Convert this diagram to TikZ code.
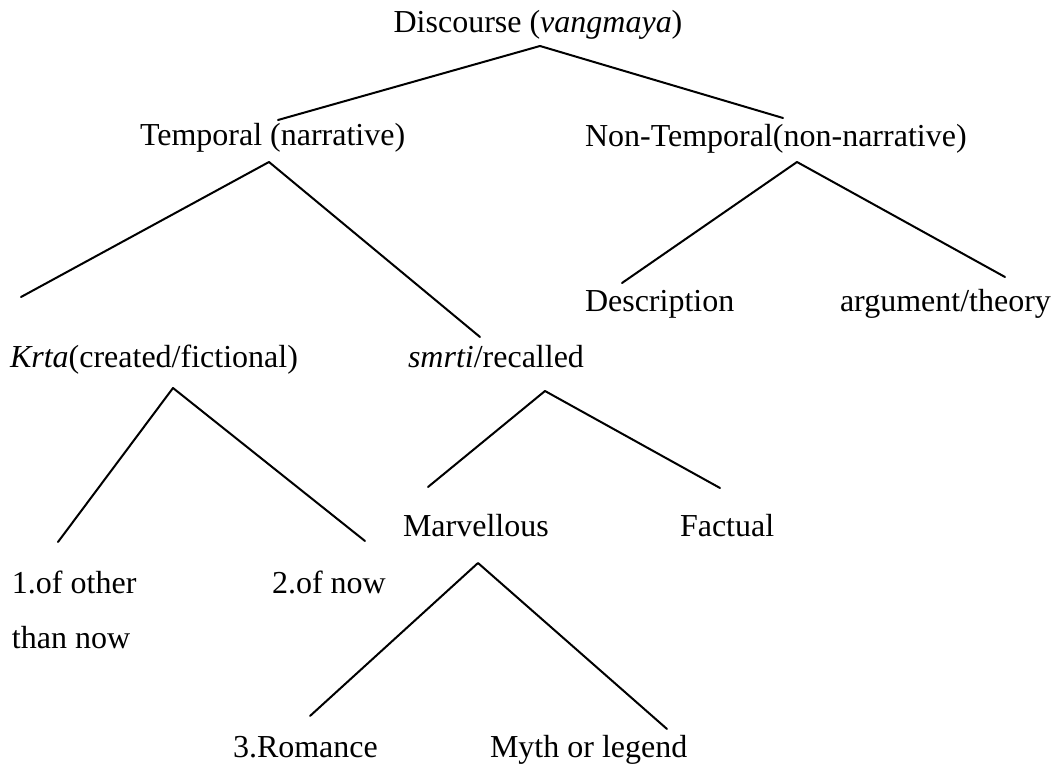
\documentclass[tikz,border=0pt]{standalone}
\usepackage{fontspec}
\setmainfont{Liberation Serif}
\begin{document}
\begin{tikzpicture}[x=0.75pt,y=-0.75pt,
  lbl/.style={inner sep=0pt,outer sep=0pt,anchor=base west,font=\fontsize{24}{28}\selectfont},
  branch/.style={line width=1.5pt,line cap=round,line join=round}]
\useasboundingbox (0,0) rectangle (1057,766);
% labels
\node[lbl,anchor=base] (disc) at (538,33) {Discourse (\textit{vangmaya})};
\node[lbl] (temp) at (140,146) {Temporal (narrative)};
\node[lbl] (nont) at (585,147) {Non-Temporal(non-narrative)};
\node[lbl] (desc) at (585,312) {Description};
\node[lbl] (arg) at (840,312) {argument/theory};
\node[lbl] (krta) at (10,368) {\textit{Krta}(created/fictional)};
\node[lbl] (smrti) at (408,368) {\textit{smrti}/recalled};
\node[lbl] (marv) at (403,537) {Marvellous};
\node[lbl] (fact) at (680,537) {Factual};
\node[lbl] (one) at (12,593) {\begin{tabular}[t]{@{}l@{}}1.of other\\[13.25pt]than now\end{tabular}};
\node[lbl] (two) at (272,593) {2.of now};
\node[lbl] (rom) at (233,757) {3.Romance};
\node[lbl] (myth) at (490,757) {Myth or legend};
% branch points
\coordinate (discA) at (540,46);
\coordinate (discL) at (278,120);
\coordinate (discR) at (783,118);
\coordinate (tempA) at (269,162);
\coordinate (tempL) at (21,297);
\coordinate (tempR) at (480,337);
\coordinate (nontA) at (797,162);
\coordinate (nontL) at (622,283);
\coordinate (nontR) at (1005,277);
\coordinate (krtaA) at (173,388);
\coordinate (krtaL) at (58,542);
\coordinate (krtaR) at (365,541);
\coordinate (smrtiA) at (545,391);
\coordinate (smrtiL) at (428,487);
\coordinate (smrtiR) at (720,488);
\coordinate (marvA) at (478,563);
\coordinate (marvL) at (310,716);
\coordinate (marvR) at (667,729);
% connectors
\draw[branch] (discL) -- (discA) -- (discR);
\draw[branch] (tempL) -- (tempA) -- (tempR);
\draw[branch] (nontL) -- (nontA) -- (nontR);
\draw[branch] (krtaL) -- (krtaA) -- (krtaR);
\draw[branch] (smrtiL) -- (smrtiA) -- (smrtiR);
\draw[branch] (marvL) -- (marvA) -- (marvR);
\end{tikzpicture}
\end{document}
